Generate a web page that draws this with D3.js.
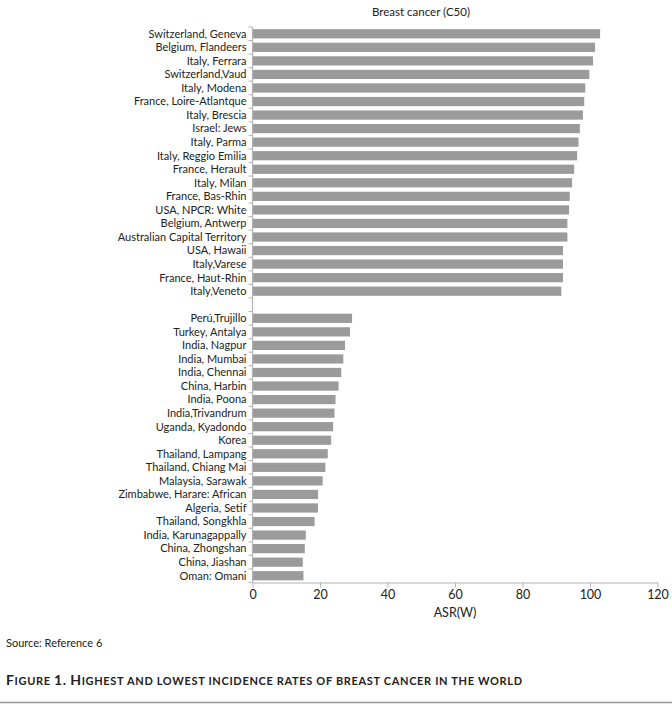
<!DOCTYPE html>
<html><head><meta charset="utf-8">
<script src="https://cdn.jsdelivr.net/npm/d3@7"></script>
<style>
body{margin:0;background:#fff;}
svg{display:block;}
text{font-family:Lato,"Open Sans",sans-serif;}
</style></head>
<body>
<svg id="c" width="672" height="708"></svg>
<script>
const highCategories = ["Switzerland, Geneva","Belgium, Flandeers","Italy, Ferrara","Switzerland,Vaud","Italy, Modena","France, Loire-Atlantque","Italy, Brescia","Israel: Jews","Italy, Parma","Italy, Reggio Emilia","France, Herault","Italy, Milan","France, Bas-Rhin","USA, NPCR: White","Belgium, Antwerp","Australian Capital Territory","USA, Hawaii","Italy,Varese","France, Haut-Rhin","Italy,Veneto"];
const highValues = [103.0,101.5,100.9,99.8,98.6,98.3,97.9,97.0,96.6,96.2,95.3,94.7,94.0,93.8,93.3,93.3,92.0,92.0,92.0,91.5];
const lowCategories = ["Perú,Trujillo","Turkey, Antalya","India, Nagpur","India, Mumbai","India, Chennai","China, Harbin","India, Poona","India,Trivandrum","Uganda, Kyadondo","Korea","Thailand, Lampang","Thailand, Chiang Mai","Malaysia, Sarawak","Zimbabwe, Harare: African","Algeria, Setif","Thailand, Songkhla","India, Karunagappally","China, Zhongshan","China, Jiashan","Oman: Omani"];
const lowValues = [29.5,28.9,27.4,26.9,26.3,25.5,24.6,24.3,23.9,23.3,22.3,21.6,20.8,19.4,19.4,18.4,15.8,15.5,14.9,15.1];
const xTicks = [0,20,40,60,80,100,120];
const title = "Breast cancer (C50)";
const xLabel = "ASR(W)";
const source = "Source: Reference 6";
const caption = "Figure 1. Highest and lowest incidence rates of breast cancer in the world";

const SPACER = "__gap__";
const data = highCategories.map((c,i)=>({c, v: highValues[i]}))
  .concat([{c: SPACER, v: null}])
  .concat(lowCategories.map((c,i)=>({c, v: lowValues[i]})));

const svg = d3.select("#c");
const pLeft = 252.5, pRight = 657.5, pTop = 27, pBottom = 582.5;
const x = d3.scaleLinear().domain([0,120]).range([pLeft,pRight]);
const y = d3.scaleBand().domain(data.map(d=>d.c)).range([pTop,pBottom]).padding(0);
const axisColor = "#b4b4b4";
const barColor = "#9b9b9b";
const bh = y.bandwidth()*0.68;

// title
svg.append("text").attr("x", 421).attr("y", 16).attr("text-anchor","middle")
  .attr("font-size", 11.5).attr("fill","#222").text(title);

// bars
svg.append("g").selectAll("rect").data(data.filter(d=>d.v!==null)).join("rect")
  .attr("x", x(0)+0.5).attr("y", d=>y(d.c)+(y.bandwidth()-bh)/2)
  .attr("width", d=>x(d.v)-x(0)-0.5).attr("height", bh).attr("fill", barColor);

// y axis line & ticks at category boundaries
const yAx = svg.append("g");
yAx.append("line").attr("x1",pLeft).attr("x2",pLeft).attr("y1",pTop).attr("y2",pBottom)
  .attr("stroke",axisColor).attr("stroke-width",1.2);
const bounds = data.map(d=>y(d.c)).concat([y(data[data.length-1].c)+y.bandwidth()]);
yAx.selectAll("line.t").data(bounds).join("line").attr("class","t")
  .attr("x1",pLeft-4).attr("x2",pLeft).attr("y1",d=>d).attr("y2",d=>d)
  .attr("stroke",axisColor).attr("stroke-width",1);
yAx.selectAll("text").data(data.filter(d=>d.v!==null)).join("text")
  .attr("x", pLeft-6).attr("y", d=>y(d.c)+y.bandwidth()/2).attr("dy","0.35em")
  .attr("text-anchor","end").attr("font-size", 11).attr("fill","#222").text(d=>d.c);

// x axis
const xa = svg.append("g").attr("transform",`translate(0,${pBottom})`)
  .call(d3.axisBottom(x).tickValues(xTicks).tickSize(5).tickSizeOuter(0).tickPadding(3));
xa.select(".domain").attr("stroke",axisColor).attr("stroke-width",1.2);
xa.selectAll(".tick line").attr("stroke",axisColor);
xa.selectAll(".tick text").attr("font-size",12.5).attr("fill","#222")
  .attr("font-family","Lato,'Open Sans',sans-serif");

svg.append("text").attr("x",(pLeft+pRight)/2).attr("y",617).attr("text-anchor","middle")
  .attr("font-size",12.5).attr("fill","#222").text(xLabel);

svg.append("text").attr("x",6).attr("y",647).attr("font-size",11).attr("fill","#222").text(source);

// caption in manual small caps
const cap = svg.append("text").attr("x",6).attr("y",685).attr("font-weight","bold")
  .attr("fill","#222").attr("textLength",516).attr("lengthAdjust","spacing");
caption.split("").forEach(ch=>{
  const isUpper = ch !== ch.toLowerCase() || /[0-9.]/.test(ch);
  cap.append("tspan").attr("font-size", isUpper ? 14 : 11).text(ch.toUpperCase());
});

svg.append("line").attr("x1",0).attr("x2",672).attr("y1",702.5).attr("y2",702.5)
  .attr("stroke","#999").attr("stroke-width",1.5);
</script>
</body></html>
